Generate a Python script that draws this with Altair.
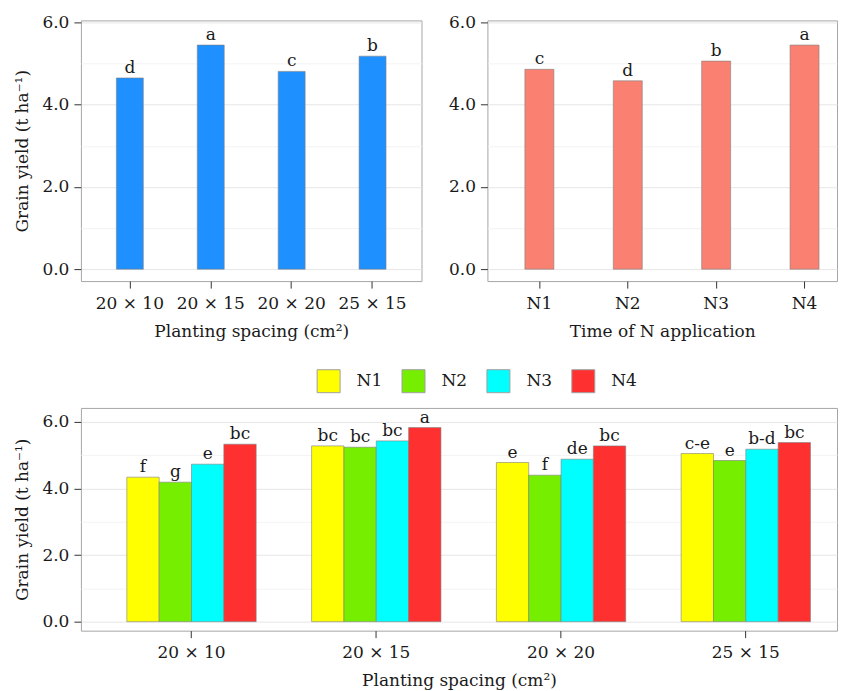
import altair as alt
import pandas as pd

# ---- data ----
spacing_cats = ["20 × 10", "20 × 15", "20 × 20", "25 × 15"]
spacing_yield = [4.65, 5.45, 4.81, 5.18]
spacing_letters = ["d", "a", "c", "b"]

n_cats = ["N1", "N2", "N3", "N4"]
n_yield = [4.86, 4.58, 5.06, 5.45]
n_letters = ["c", "d", "b", "a"]

combo_n1 = [4.34, 5.28, 4.78, 5.05]
combo_n2 = [4.19, 5.24, 4.40, 4.84]
combo_n3 = [4.73, 5.43, 4.88, 5.18]
combo_n4 = [5.33, 5.83, 5.28, 5.38]
letters_n1 = ["f", "bc", "e", "c-e"]
letters_n2 = ["g", "bc", "f", "e"]
letters_n3 = ["e", "bc", "de", "b-d"]
letters_n4 = ["bc", "a", "bc", "bc"]

n_colors = ["#FFFF00", "#76EE00", "#00FFFF", "#FF3030"]
y_ticks = [0, 1, 2, 3, 4, 5, 6]

FONT = "DejaVu Serif"
TXT = "#1a1a1a"

df_sp = pd.DataFrame({"spacing": spacing_cats, "yield": spacing_yield, "letter": spacing_letters})
df_n = pd.DataFrame({"time": n_cats, "yield": n_yield, "letter": n_letters})

rows = []
for ser, vals, lets in zip(n_cats, [combo_n1, combo_n2, combo_n3, combo_n4],
                           [letters_n1, letters_n2, letters_n3, letters_n4]):
    for sp, v, l in zip(spacing_cats, vals, lets):
        rows.append({"spacing": sp, "series": ser, "yield": v, "letter": l})
df_c = pd.DataFrame(rows)


def yaxis(title):
    return alt.Axis(
        title=title,
        values=y_ticks,
        labelExpr="datum.value % 2 == 0 ? format(datum.value, '.1f') : ''",
        tickColor={"condition": {"test": "datum.value % 2 == 0", "value": "#333333"},
                   "value": "rgba(0,0,0,0)"},
        gridColor={"condition": {"test": "datum.value % 2 == 0", "value": "#e6e6e6"},
                   "value": "#f3f3f3"},
        labelPadding=5,
        titlePadding=10,
    )


def xaxis(title):
    return alt.Axis(title=title, labelAngle=0, labelPadding=7, titlePadding=12,
                    gridColor="#ececec")


# ---- top-left: planting spacing ----
sc1 = alt.Scale(paddingInner=0.667, paddingOuter=0.4385, align=0.5)
ys1 = alt.Scale(domain=[-0.29, 6.05], nice=False, zero=False)
base1 = alt.Chart(df_sp).encode(
    x=alt.X("spacing:N", sort=spacing_cats, scale=sc1, axis=xaxis("Planting spacing (cm²)")),
    y=alt.Y("yield:Q", scale=ys1, axis=yaxis("Grain yield (t ha⁻¹)")),
)
p1 = alt.layer(
    base1.mark_bar(color="#1E90FF", stroke="#7f7f7f", strokeWidth=0.6),
    base1.mark_text(baseline="bottom", dy=-1, font=FONT, fontSize=17, color=TXT).encode(text="letter:N"),
).properties(width=341, height=261)

# ---- top-right: time of N application ----
sc2 = alt.Scale(paddingInner=0.672, paddingOuter=0.3135, align=0.676)
base2 = alt.Chart(df_n).encode(
    x=alt.X("time:N", sort=n_cats, scale=sc2, axis=xaxis("Time of N application")),
    y=alt.Y("yield:Q", scale=ys1, axis=yaxis(None)),
)
p2 = alt.layer(
    base2.mark_bar(color="#FA8072", stroke="#7f7f7f", strokeWidth=0.6),
    base2.mark_text(baseline="bottom", dy=-1, font=FONT, fontSize=17, color=TXT).encode(text="letter:N"),
).properties(width=350, height=261)

# ---- bottom: interaction ----
sc3 = alt.Scale(paddingInner=0.3, paddingOuter=0.196, align=0.634)
ys3 = alt.Scale(domain=[-0.27, 6.42], nice=False, zero=False)
base3 = alt.Chart(df_c).encode(
    x=alt.X("spacing:N", sort=spacing_cats, scale=sc3, axis=xaxis("Planting spacing (cm²)")),
    xOffset=alt.XOffset("series:N", sort=n_cats),
    y=alt.Y("yield:Q", scale=ys3, axis=yaxis("Grain yield (t ha⁻¹)")),
)
p3 = alt.layer(
    base3.mark_bar(stroke="#7f7f7f", strokeWidth=0.6).encode(
        color=alt.Color(
            "series:N",
            scale=alt.Scale(domain=n_cats, range=n_colors),
            legend=alt.Legend(
                title=None, orient="none", direction="horizontal",
                legendX=236, legendY=-39, symbolType="square", symbolSize=529,
                symbolStrokeColor="#a0a0a0", symbolStrokeWidth=1, symbolOpacity=1,
                labelOffset=16, columnPadding=17, padding=0,
            ),
        )
    ),
    base3.mark_text(baseline="bottom", dy=-1, font=FONT, fontSize=17, color=TXT).encode(text="letter:N"),
).properties(width=757, height=223)

chart = alt.vconcat(
    alt.hconcat(p1, p2, spacing=25),
    p3,
    spacing=28,
).resolve_scale(color="independent").properties(
    padding={"left": 5, "top": 4, "right": 0, "bottom": 0}
).configure_view(
    stroke="#a6a6a6", strokeWidth=1
).configure_axis(
    labelFont=FONT, titleFont=FONT, labelFontSize=17, titleFontSize=17,
    titleFontWeight="normal", labelColor=TXT, titleColor=TXT,
    domain=False, tickSize=7, tickWidth=1, tickColor="#333333",
).configure_legend(
    labelFont=FONT, labelFontSize=17, labelColor=TXT,
)

chart.save("out.html", embed_options={"renderer": "svg", "actions": False})
